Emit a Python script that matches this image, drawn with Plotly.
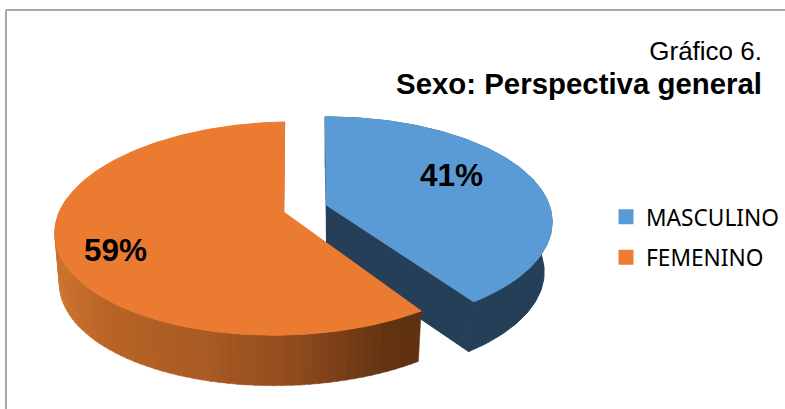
import numpy as np
import plotly.graph_objects as go

categories = ["MASCULINO", "FEMENINO"]
values = [41, 59]
title_line1 = "Gráfico 6."
title_line2 = "Sexo: Perspectiva general"

W, H = 785, 409
BLUE, ORANGE = "#5B9BD5", "#EA7B30"
NAVY = "#243F57"
WALL_ORANGE = "#B9682A"

# projection of each exploded slice (tilted disc seen in perspective), in axis units
GEOM = {
    "MASCULINO": dict(ax=326.6, ay=205.0, R=222.5, S=102.3, k=0.162, depth=50.0, bs=0.965, sh=0.0),
    "FEMENINO": dict(ax=283.6, ay=212.0, R=226.0, S=104.0, k=0.155, depth=50.5, bs=0.98, sh=-0.02),
}
VIEW_SWEEP = 0.985  # foreshortening of the first slice's sweep in this view


def proj(theta, g, bottom=False):
    t = np.radians(theta)
    u, v = np.sin(t), -np.cos(t)
    w = 1 - g["k"] * v
    x, y = g["R"] * u / w, g["S"] * v / w
    y = y + g["sh"] * x
    if bottom:
        return g["ax"] + x * g["bs"], g["ay"] + y + g["depth"]
    return g["ax"] + x, g["ay"] + y


def poly(xs, ys, color, line=0.0):
    return go.Scatter(
        x=list(xs) + [xs[0]], y=list(ys) + [ys[0]], mode="lines", fill="toself", fillcolor=color,
        line=dict(color=color, width=line), showlegend=False, hoverinfo="skip",
    )


total = sum(values)
a_m = 360 * values[0] / total
gm, gf = GEOM["MASCULINO"], GEOM["FEMENINO"]
s_m, e_m = -0.4, -0.4 + a_m * VIEW_SWEEP   # blue sweep
s_f, e_f = a_m + 0.5, 360.3                # orange sweep

fig = go.Figure()

# --- blue slice: walls then top
th = np.linspace(s_m, e_m, 120)
x0, y0 = proj(th, gm)
x1, y1 = proj(th, gm, bottom=True)
fig.add_trace(poly(np.r_[x0, x1[::-1]], np.r_[y0, y1[::-1]], NAVY, 1))
ax, ay = gm["ax"], gm["ay"]
xe, ye = proj(e_m, gm); xeb, yeb = proj(e_m, gm, bottom=True)
fig.add_trace(poly([ax, xe, xeb, ax], [ay, ye, yeb, ay + gm["depth"]], NAVY, 1))
xs, ys = proj(s_m, gm); xsb, ysb = proj(s_m, gm, bottom=True)
fig.add_trace(poly([ax, xs, xsb, ax], [ay, ys, ysb, ay + gm["depth"]], NAVY, 0.5))
fig.add_trace(poly(np.r_[ax, x0], np.r_[ay, y0], BLUE, 1.2))

# --- orange slice: start wall, gradient rim, then top
ax, ay = gf["ax"], gf["ay"]
xt, yt = proj(e_f, gf); xtb, ytb = proj(e_f, gf, bottom=True)
fig.add_trace(poly([ax, xt, xtb, ax], [ay, yt, ytb, ay + gf["depth"]], WALL_ORANGE, 0.5))

grad_x = [60, 110, 200, 300, 385, 425]
grad_r = [203, 184, 170, 142, 100, 95]
grad_g = [114, 100, 92, 74, 52, 48]
grad_b = [46, 38, 36, 30, 18, 16]
edges = np.arange(s_f, 282, 2.0)
for a, b in zip(edges[:-1], edges[1:]):
    tt = np.array([a, b + 0.3])
    xa, ya = proj(tt, gf)
    xb, yb = proj(tt, gf, bottom=True)
    xm = float(xa.mean())
    c = "rgb(%d,%d,%d)" % tuple(np.interp(xm, grad_x, ch) for ch in (grad_r, grad_g, grad_b))
    fig.add_trace(poly(np.r_[xa, xb[::-1]], np.r_[ya, yb[::-1]], c, 0.5))

th = np.linspace(s_f, e_f, 200)
xf, yf = proj(th, gf)
fig.add_trace(poly(np.r_[ax, xf], np.r_[ay, yf], ORANGE, 1.0))

# --- legend entries
for name, col in zip(categories, [BLUE, "#ED7D31"]):
    fig.add_trace(go.Scatter(
        x=[None], y=[None], mode="markers", name=name, legendgroup=name,
        marker=dict(symbol="square", size=15, color=col),
    ))

# --- data labels
label_pos = {"MASCULINO": (451, 175), "FEMENINO": (115.5, 249.5)}
for name, v in zip(categories, values):
    lx, ly = label_pos[name]
    fig.add_annotation(x=lx, y=ly, xref="x", yref="y", text=f"<b>{v}%</b>", showarrow=False,
                       font=dict(family="Liberation Sans", size=31.5, color="#000000"),
                       xanchor="center", yanchor="middle")

fig.update_layout(
    width=W, height=H,
    margin=dict(l=0, r=0, t=0, b=0),
    paper_bgcolor="white", plot_bgcolor="white",
    xaxis=dict(range=[0, W], visible=False, fixedrange=True),
    yaxis=dict(range=[H, 0], visible=False, fixedrange=True),
    title=dict(
        text=f"<span style='font-size:26px'>{title_line1}</span><br>"
             f"<span style='font-size:29.4px'><b>{title_line2}</b></span>",
        x=762 / W, xanchor="right", xref="paper", y=1 - 60 / H, yanchor="top", yref="paper",
        font=dict(family="Liberation Sans", size=26, color="#000000"),
    ),
    legend=dict(
        x=606 / W, y=1 - 195.5 / H, xanchor="left", yanchor="top", bgcolor="rgba(0,0,0,0)",
        font=dict(family="Noto Sans", size=22.7, color="#000000"),
        tracegroupgap=8, traceorder="grouped",
    ),
    shapes=[
        dict(type="line", xref="paper", yref="paper", x0=6 / W, x1=1, y0=1 - 10 / H, y1=1 - 10 / H,
             line=dict(color="#A6A6A6", width=2)),
        dict(type="line", xref="paper", yref="paper", x0=6 / W, x1=6 / W, y0=1 - 10 / H, y1=0,
             line=dict(color="#A6A6A6", width=2)),
    ],
)

fig.write_html("out.html", config={"displayModeBar": False},
               post_script="document.body.style.margin='0';document.body.style.overflow='hidden';")
